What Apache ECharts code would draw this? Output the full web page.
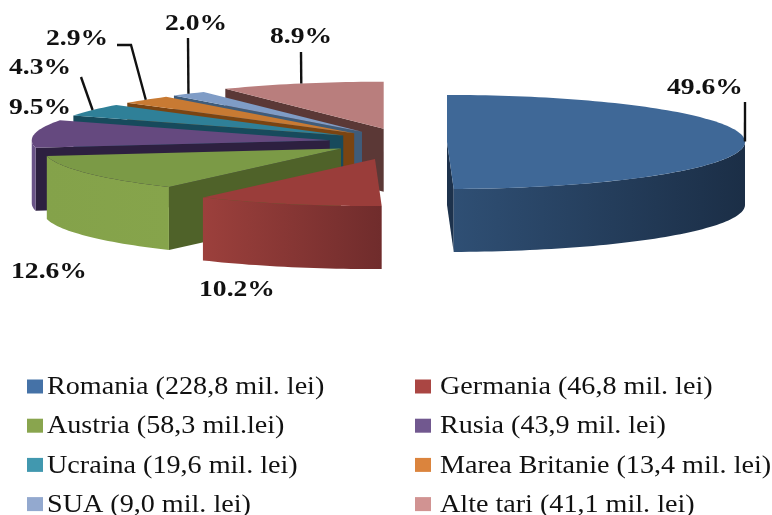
<!DOCTYPE html>
<html><head><meta charset="utf-8">
<style>html,body{margin:0;padding:0;background:#fff}#c{width:772px;height:515px}</style>
<script src="https://cdn.jsdelivr.net/npm/echarts@6/dist/echarts.min.js"></script>
</head><body><div id="c"></div>
<script>
// ---- data ----
var categories = ['Romania','Germania','Austria','Rusia','Ucraina','Marea Britanie','SUA','Alte tari'];
var amounts = [228.8, 46.8, 58.3, 43.9, 19.6, 13.4, 9.0, 41.1];
var percentLabels = ['49.6%','10.2%','12.6%','9.5%','4.3%','2.9%','2.0%','8.9%'];
var legendLabels = ['Romania (228,8 mil. lei)','Germania (46,8 mil. lei)','Austria (58,3 mil.lei)','Rusia (43,9 mil. lei)','Ucraina (19,6 mil. lei)','Marea Britanie (13,4 mil. lei)','SUA (9,0 mil. lei)','Alte tari (41,1 mil. lei)'];

// ---- style / layout ----
var legendColors = ['#4572a7','#aa4643','#89a54e','#71588f','#4198af','#db843d','#93a9cf','#d19392'];
var topColors    = ['#3f6897','#9a3d3a','#7b9a46','#65497f','#2f8098','#c87a33','#7f9cc6','#b97e7d'];
var cutColors    = ['#1d324c','#7a2f2d','#4f6229','#2d2040','#174a5c','#7a4412','#3f5c7a','#5b3836'];
var rimColors    = [['#2f4f74','#1b2e46'],['#9c403c','#702c2c'],['#84a24a','#86a44b'],['#6a5388','#6a5388'],['#174a5c','#174a5c'],['#7a4412','#7a4412'],['#3f5c7a','#3f5c7a'],['#5b3836','#5b3836']];
var explode = [39, 113, 79, 79, 77, 77, 79, 88];          // explosion distance of each slice
var paintOrder = [0, 7, 6, 5, 4, 3, 2, 1];                // back to front
var base = {x: 408, y: 142, rx: 298, ry: 47, depth: 63};
// label centre, and leader-line waypoints (empty = no leader)
var labelAt = [[705,88],[237,290],[49,272],[40,108],[40,68],[77,39],[196,24],[301,37]];
var leaderVia = [[[745,102]],[],[],[],[[81,77]],[[131,45],[117,45]],[[188,38]],[[301,52]]];
var legendTextX = [47, 440], legendRowY = [387, 426.5, 466, 505.5];

var total = amounts.reduce(function(a,b){return a+b;},0);
var rad = Math.PI/180;
var starts = [], ends = [], acc = 0;
amounts.forEach(function(v){ starts.push(acc/total*360); acc += v; ends.push(acc/total*360); });

function centre(i){
  var m = (starts[i]+ends[i])/2*rad;
  return {x: base.x + explode[i]*Math.sin(m), y: base.y - explode[i]*Math.cos(m)*base.ry/base.rx};
}
function rim(c, deg){ return [c.x + base.rx*Math.sin(deg*rad), c.y - base.ry*Math.cos(deg*rad)]; }
function arc(c, a, b){ var p=[], n=Math.max(2,Math.ceil(Math.abs(b-a)/1.5)); for(var k=0;k<=n;k++){p.push(rim(c,a+(b-a)*k/n));} return p; }
function down(p){ return [p[0],p[1]+base.depth]; }

function renderSlice(i){
  return function(){
    var c = centre(i), kids = [], a = starts[i], b = ends[i], ctr=[c.x,c.y];
    if (a > 180 && a < 360) {
      var r = rim(c,a);
      kids.push({type:'polygon',shape:{points:[ctr,r,down(r),down(ctr)]},style:{fill:cutColors[i]}});
    }
    if (b > 0 && b < 180) {
      var r2 = rim(c,b);
      kids.push({type:'polygon',shape:{points:[ctr,r2,down(r2),down(ctr)]},style:{fill:cutColors[i]}});
    }
    var wa = Math.max(a,90), wb = Math.min(b,270);
    if (wb > wa) {
      var t = arc(c,wa,wb);
      var pts = t.concat(t.slice().reverse().map(down));
      kids.push({type:'polygon',shape:{points:pts},style:{fill:{type:'linear',x:0,y:0,x2:1,y2:0,colorStops:[{offset:0,color:rimColors[i][0]},{offset:1,color:rimColors[i][1]}]}}});
    }
    kids.push({type:'polygon',shape:{points:[ctr].concat(arc(c,a,b))},style:{fill:topColors[i]}});
    if (leaderVia[i].length) {
      kids.push({type:'polyline',shape:{points:[rim(c,(a+b)/2)].concat(leaderVia[i])},style:{stroke:'#111',lineWidth:2.4,fill:null}});
    }
    kids.push({type:'text',x:labelAt[i][0],y:labelAt[i][1],scaleX:1.15,style:{text:percentLabels[i],fill:'#111',align:'center',verticalAlign:'middle',font:'bold 24px "Liberation Serif"'}});
    kids.push({type:'text',x:legendTextX[i%2],y:legendRowY[Math.floor(i/2)],scaleX:1.125,style:{text:legendLabels[i],fill:'#111',align:'left',verticalAlign:'middle',font:'25px "Liberation Serif"'}});
    return {type:'group',children:kids};
  };
}

var series = categories.map(function(cat,i){
  return {type:'custom',name:legendLabels[i],coordinateSystem:'none',silent:true,animation:false,
    z:2+paintOrder.indexOf(i),itemStyle:{color:legendColors[i]},
    data:[{name:cat,value:amounts[i]}],renderItem:renderSlice(i)};
});

function legendFor(list,left){
  return {orient:'vertical',left:left,top:379.5,padding:0,itemWidth:16,itemHeight:14,itemGap:25.2,itemStyle:{borderWidth:0},selectedMode:false,icon:'rect',
    formatter:function(){return '';},
    data:list.map(function(k){return legendLabels[k];})};
}
var leftColumn=[0,2,4,6], rightColumn=[1,3,5,7];
var chart = echarts.init(document.getElementById('c'),null,{renderer:'canvas'});
chart.setOption({animation:false,backgroundColor:'#fff',legend:[legendFor(leftColumn,27),legendFor(rightColumn,415)],series:series});
</script></body></html>
